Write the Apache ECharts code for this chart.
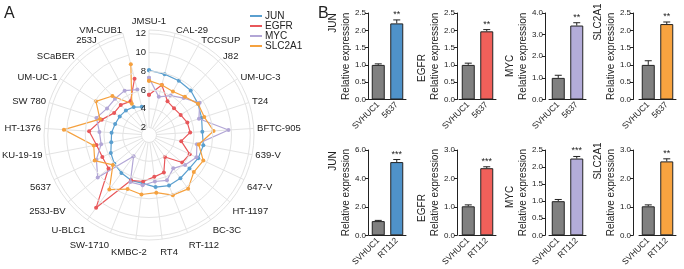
<!DOCTYPE html>
<html>
<head>
<meta charset="utf-8">
<script src="https://cdn.jsdelivr.net/npm/echarts@6/dist/echarts.min.js"></script>
<style>
  html, body { margin: 0; padding: 0; background: #fff; }
  #chart { width: 684px; height: 269px; }
</style>
</head>
<body>
<div id="chart"></div>
<script>
// panel A: radar of expression across bladder cancer cell lines
const cellLines = ['JMSU-1', 'CAL-29', 'TCCSUP', 'J82', 'UM-UC-3', 'T24', 'BFTC-905', '639-V', '647-V', 'HT-1197',
  'BC-3C', 'RT-112', 'RT4', 'KMBC-2', 'SW-1710', 'U-BLC1', '253J-BV', '5637', 'KU-19-19', 'HT-1376',
  'SW 780', 'UM-UC-1', 'SCaBER', '253J', 'VM-CUB1'];
const junVals = [8.1, 7.9, 7.8, 7.7, 7.4, 7.1, 6.9, 7.1, 7.0, 6.8, 6.9, 7.0, 6.8, 6.4, 6.4, 6.2, 6.0, 5.7, 5.3, 5.2, 5.0, 4.9, 4.8, 4.6, 4.3];
const egfrVals = [5.5, 6.7, 5.3, 5.1, 5.2, 5.5, 5.6, 4.7, 6.0, 5.8, 4.1, 5.5, 5.7, 6.2, 6.4, 10.8, 6.8, 6.7, 6.9, 7.6, 6.5, 5.6, 5.6, 5.3, 7.4];
const mycVals = [7.3, 5.4, 6.0, 6.6, 7.6, 6.8, 9.7, 6.4, 6.8, 6.2, 5.6, 6.4, 6.2, 6.6, 6.6, 4.0, 8.3, 7.4, 6.4, 6.5, 7.1, 6.5, 6.5, 6.6, 6.2];
const slcVals = [7.0, 6.7, 6.5, 6.8, 7.4, 7.4, 8.1, 6.6, 7.6, 7.4, 8.3, 8.1, 7.4, 7.6, 7.4, 8.4, 6.2, 7.6, 7.2, 10.3, 6.7, 7.9, 6.9, 5.0, 9.0];
const radarNames = ['JUN', 'EGFR', 'MYC', 'SLC2A1'];
const radarColors = ['#5a9fcf', '#e8575a', '#b2a6d6', '#f5a13f'];

// panel B: qPCR bars
const genes = ['JUN', 'EGFR', 'MYC', 'SLC2A1'];
const topGroups = ['SVHUC1', '5637'];
const bottomGroups = ['SVHUC1', 'RT112'];
const topMeans = [[1.0, 2.2], [1.0, 1.97], [1.0, 3.42], [1.0, 2.18]];
const topErrs = [[0.03, 0.1], [0.05, 0.05], [0.12, 0.13], [0.12, 0.06]];
const topSig = ['**', '**', '**', '**'];
const topMax = [2.5, 2.5, 4.0, 2.5];
const topStep = [0.5, 0.5, 1.0, 0.5];
const bottomMeans = [[1.0, 5.15], [1.02, 2.36], [1.0, 2.25], [1.02, 2.6]];
const bottomErrs = [[0.05, 0.18], [0.05, 0.05], [0.05, 0.06], [0.05, 0.09]];
const bottomSig = ['***', '***', '***', '**'];
const bottomMax = [6.0, 3.0, 2.5, 3.0];
const bottomStep = [2.0, 1.0, 0.5, 1.0];
const barColors = ['#4f92c9', '#f0605a', '#b3acd9', '#f7a340'];
const ctrlColor = '#808080';

const FONT = 'Liberation Sans, Arial, sans-serif';
const colLeft = [369, 459, 549, 639];
const axisOffset = [1, 2, 4, 6];
const rowTop = [13, 150];
const gridH = 86.5;
const gridW = 37;
// where the gene name sits along each axis (centre, px)
const geneLabelY = [[23, 68, 66, 22], [161, 208, 197, 161]];
const LABEL_R = 12.75; // radial position of the cell line names

const myChart = echarts.init(document.getElementById('chart'));

const closeLoop = (vals) => {
  const d = vals.map((v, i) => [v, i]);
  d.push([vals[0], 0]);
  return d;
};

const grids = [];
const xAxes = [];
const yAxes = [];
const series = [];
const graphics = [];

radarNames.forEach((name, k) => {
  const vals = [junVals, egfrVals, mycVals, slcVals][k];
  series.push({
    name: name,
    type: 'line',
    coordinateSystem: 'polar',
    data: closeLoop(vals),
    symbol: 'circle',
    symbolSize: 4,
    showSymbol: true,
    color: radarColors[k],
    lineStyle: { width: 1.2 },
    z: 3 + k,
    animation: false,
  });
});

// cell line names, anchored by their inner edge like the original
series.push({
  type: 'custom',
  coordinateSystem: 'polar',
  silent: true,
  animation: false,
  data: cellLines.map((n, i) => [LABEL_R, i]),
  renderItem: (params, api) => {
    const i = params.dataIndex;
    const p = api.coord([api.value(0), api.value(1)]);
    const ang = (i / cellLines.length) * Math.PI * 2;
    const s = Math.sin(ang);
    const c = Math.cos(ang);
    let x = p[0];
    let y = p[1];
    let align = 'center';
    if (Math.abs(s) < 0.05) align = 'center';
    else if (Math.abs(s) < 0.15) x += s > 0 ? 6.5 : -6.5;
    else align = s > 0 ? 'left' : 'right';
    let valign = 'middle';
    if (c < -0.3) { valign = 'top'; y += 5 * c * c; }
    else if (Math.abs(s) < 0.05) valign = 'bottom';
    return {
      type: 'text',
      style: { text: cellLines[i], x: x, y: y, textAlign: align, textVerticalAlign: valign, fontSize: 9.5, fontFamily: FONT, fill: '#222' },
    };
  },
});

// small bar charts, 2 rows x 4 columns
[0, 1].forEach((row) => {
  const groups = row === 0 ? topGroups : bottomGroups;
  const means = row === 0 ? topMeans : bottomMeans;
  const errs = row === 0 ? topErrs : bottomErrs;
  const sigs = row === 0 ? topSig : bottomSig;
  const maxs = row === 0 ? topMax : bottomMax;
  const steps = row === 0 ? topStep : bottomStep;
  genes.forEach((gene, c) => {
    const idx = grids.length;
    grids.push({ left: colLeft[c], top: rowTop[row], width: gridW, height: gridH });
    xAxes.push({
      type: 'category',
      gridIndex: idx,
      data: groups,
      axisLine: { lineStyle: { color: '#222', width: 1 } },
      axisTick: { alignWithLabel: true, length: 3, lineStyle: { color: '#222' } },
      axisLabel: { rotate: 45, fontSize: 8.5, color: '#222', margin: 4, interval: 0, fontFamily: FONT },
    });
    yAxes.push({
      type: 'value',
      gridIndex: idx,
      min: 0,
      max: maxs[c],
      interval: steps[c],
      offset: axisOffset[c],
      name: 'Relative expression',
      nameLocation: 'middle',
      nameRotate: 90,
      nameGap: 16,
      nameTextStyle: { fontSize: 10, color: '#222', fontFamily: FONT },
      axisLine: { show: true, lineStyle: { color: '#222', width: 1 } },
      axisTick: { show: true, length: 3, lineStyle: { color: '#222' } },
      axisLabel: { fontSize: 8, color: '#222', margin: 2, fontFamily: FONT, formatter: (v) => v.toFixed(1) },
      splitLine: { show: false },
    });
    series.push({
      type: 'bar',
      xAxisIndex: idx,
      yAxisIndex: idx,
      barWidth: 13,
      animation: false,
      data: means[c].map((m, i) => ({
        value: m,
        itemStyle: { color: i === 0 ? ctrlColor : barColors[c], borderColor: '#222', borderWidth: 1 },
      })),
    });
    series.push({
      type: 'custom',
      xAxisIndex: idx,
      yAxisIndex: idx,
      animation: false,
      z: 5,
      data: means[c].map((m, i) => [i, m, errs[c][i]]),
      renderItem: (params, api) => {
        const base = api.coord([api.value(0), api.value(1)]);
        const top = api.coord([api.value(0), api.value(1) + api.value(2)]);
        const children = [
          { type: 'line', shape: { x1: base[0], y1: base[1], x2: top[0], y2: top[1] }, style: { stroke: '#222', lineWidth: 1 } },
          { type: 'line', shape: { x1: top[0] - 3.5, y1: top[1], x2: top[0] + 3.5, y2: top[1] }, style: { stroke: '#222', lineWidth: 1 } },
        ];
        if (params.dataIndex === 1) {
          children.push({
            type: 'text',
            style: { text: sigs[c], x: top[0], y: top[1] - 1, textAlign: 'center', textVerticalAlign: 'bottom', fontSize: 9, fontFamily: FONT, fill: '#222' },
          });
        }
        return { type: 'group', children };
      },
    });
    // gene name beside the axis title
    graphics.push({
      type: 'text',
      x: colLeft[c] - axisOffset[c] - 35,
      y: geneLabelY[row][c],
      rotation: Math.PI / 2,
      style: { text: gene, fontSize: 10, fontFamily: FONT, fill: '#222', textAlign: 'center', textVerticalAlign: 'middle' },
    });
  });
});

graphics.push({ type: 'text', left: 4, top: 6, style: { text: 'A', fontSize: 16, fontFamily: FONT, fill: '#222' } });
graphics.push({ type: 'text', left: 318, top: 6, style: { text: 'B', fontSize: 16, fontFamily: FONT, fill: '#222' } });

const option = {
  backgroundColor: '#fff',
  animation: false,
  textStyle: { fontFamily: FONT },
  legend: {
    data: radarNames,
    orient: 'vertical',
    left: 245,
    top: 6,
    itemWidth: 12,
    itemHeight: 2,
    itemGap: 0,
    icon: 'rect',
    textStyle: { fontSize: 10, lineHeight: 10, color: '#222', fontFamily: FONT, padding: [0, 0, 0, -2] },
  },
  polar: { center: [149, 135], radius: [7.5, 105] },
  angleAxis: {
    type: 'category',
    data: cellLines,
    boundaryGap: false,
    startAngle: 90,
    clockwise: true,
    axisLine: { show: false },
    axisTick: { show: false },
    axisLabel: { show: false },
    splitLine: { show: true, lineStyle: { color: '#e3e3e3', width: 1 } },
  },
  radiusAxis: {
    type: 'value',
    min: 2,
    max: 12.4,
    interval: 2,
    axisLine: { show: false },
    axisTick: { show: false },
    axisLabel: { fontSize: 9.5, color: '#222', margin: 3, fontFamily: FONT, formatter: (v) => (v % 2 === 0 ? String(v) : '') },
    splitLine: { show: true, lineStyle: { color: '#e3e3e3', width: 1 } },
    z: 10,
  },
  grid: grids,
  xAxis: xAxes,
  yAxis: yAxes,
  series: series,
  graphic: graphics,
};
myChart.setOption(option);
</script>
</body>
</html>
